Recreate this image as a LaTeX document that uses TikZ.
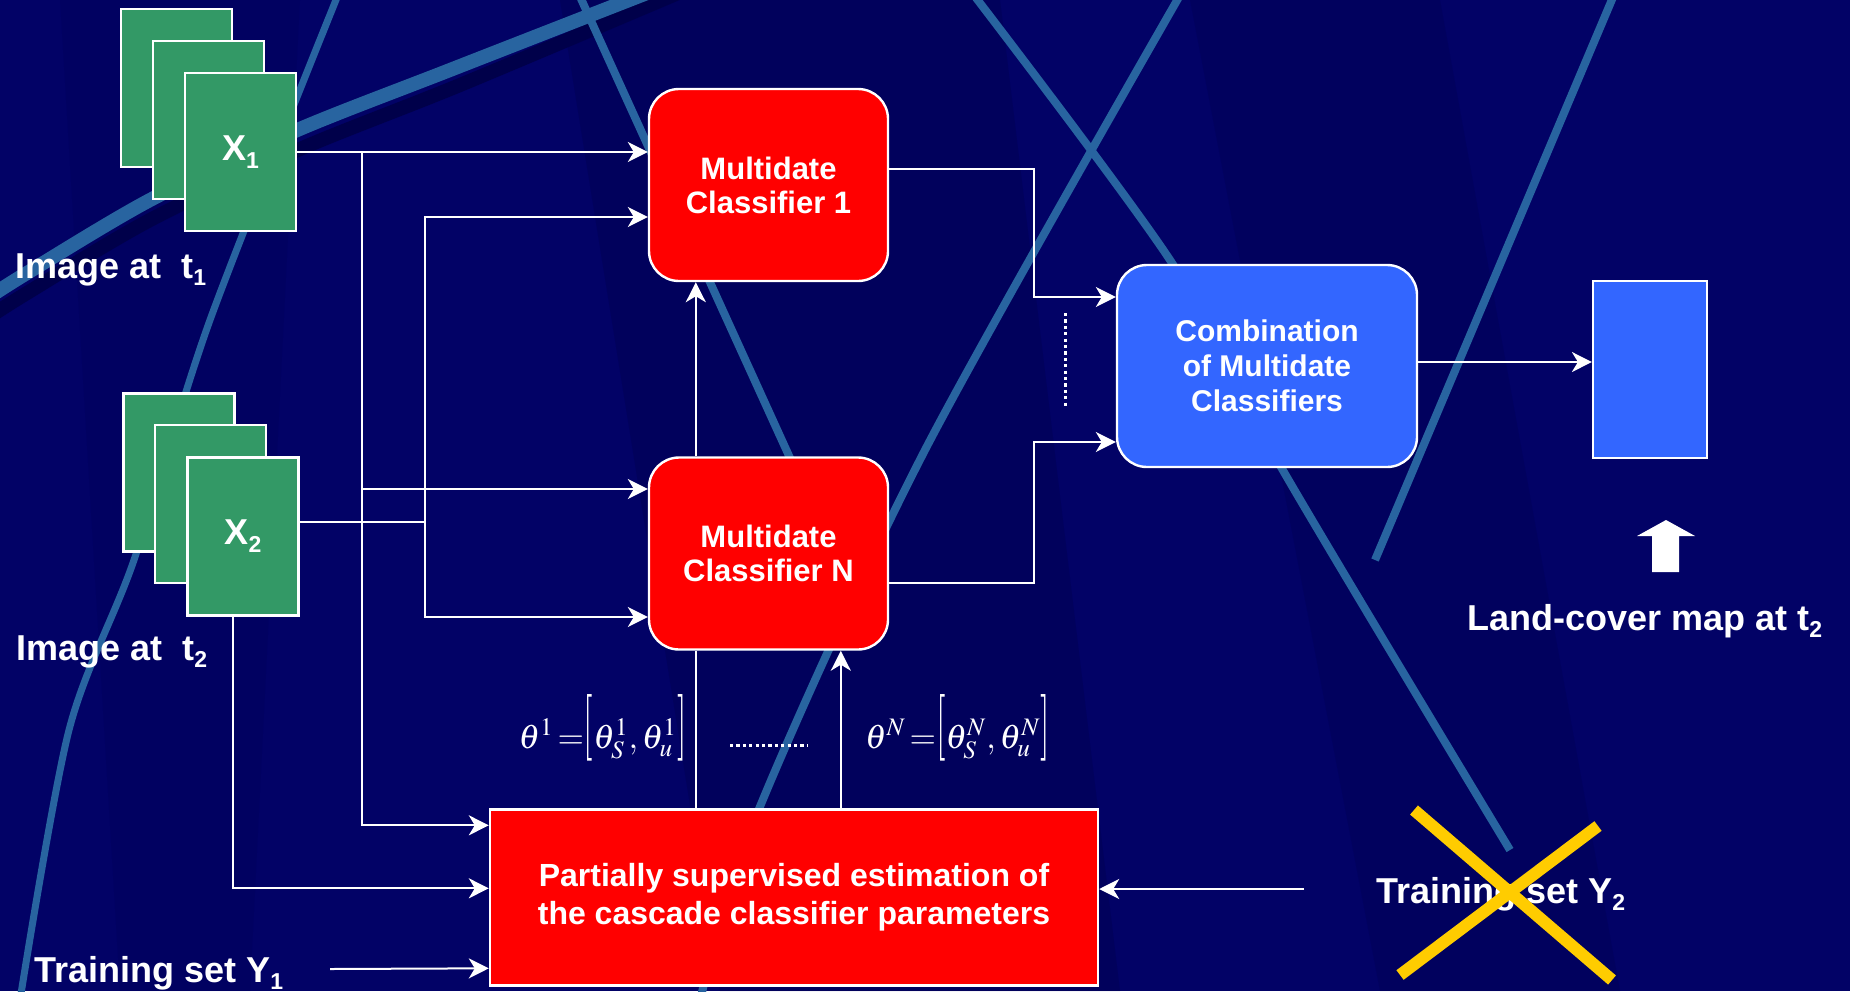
\documentclass[tikz,border=0pt]{standalone}
\usepackage{mathptmx}
\usepackage[no-math]{fontspec}
\setmainfont{Liberation Sans}
\usetikzlibrary{arrows.meta,calc}

\definecolor{navy}{RGB}{2,2,102}
\definecolor{navydark}{RGB}{0,0,74}
\definecolor{streak}{RGB}{40,100,160}
\definecolor{imggreen}{RGB}{51,153,102}
\definecolor{clsred}{RGB}{255,0,0}
\definecolor{cmbblue}{RGB}{51,102,255}
\definecolor{crossyellow}{RGB}{255,204,0}

% lowered, smaller index used in the labels
\newcommand\dn[1]{\raisebox{-0.22em}{\fontsize{11.5pt}{11.5pt}\selectfont #1}}
% tall square bracket reaching well above the symbols
\newcommand\tallbr[1]{\mathopen{\raisebox{2pt}{\scalebox{1}[1.96]{$#1$}}}}

\begin{document}
\begin{tikzpicture}[x=0.5pt,y=-0.5pt,
  wire/.style={draw=white,line width=1pt},
  arr/.style={wire,-{Stealth[length=10pt,width=10pt,inset=3pt]}},
  dots/.style={draw=white,line width=1.5pt,dash pattern=on 1.6pt off 1.6pt},
  streakline/.style={draw=streak,line width=4pt},
  imgbox/.style={draw=white,line width=1.1pt,fill=imggreen,minimum width=55.5pt,
    minimum height=79pt,inner sep=0pt,text=white,font=\bfseries\fontsize{18}{18}\selectfont},
  clsbox/.style={draw=white,line width=1.2pt,fill=clsred,rounded corners=15pt,
    minimum width=119.5pt,minimum height=96pt,inner sep=0pt,align=center,text=white,
    font=\bfseries\fontsize{15.5}{17}\selectfont},
  cmbbox/.style={draw=white,line width=1.2pt,fill=cmbblue,rounded corners=15pt,
    minimum width=150pt,minimum height=101pt,inner sep=0pt,align=center,text=white,
    font=\bfseries\fontsize{15}{17.5}\selectfont},
  estbox/.style={draw=white,line width=1.2pt,fill=clsred,
    minimum width=304pt,minimum height=88pt,inner sep=0pt,align=center,text=white,
    font=\bfseries\fontsize{16}{19}\selectfont},
  outbox/.style={draw=white,line width=1.1pt,fill=cmbblue,minimum width=57pt,
    minimum height=88.5pt,inner sep=0pt},
  lbl/.style={text=white,font=\bfseries\fontsize{18}{20}\selectfont,inner sep=0pt,anchor=base west},
  mathlbl/.style={text=white,font=\fontsize{17}{19}\selectfont,inner sep=0pt,anchor=base}
]
% ---- background ----
\fill[navy] (0,0) rectangle (1850,991);
\useasboundingbox (0,0) rectangle (1850,991);
\begin{scope}
\clip (0,0) rectangle (1850,991);
\fill[navydark,opacity=0.35] (560,0) -- (1000,0) -- (1120,991) -- (720,991) -- cycle;
\fill[navydark,opacity=0.25] (1190,0) -- (1440,0) -- (1620,991) -- (1380,991) -- cycle;
\fill[navydark,opacity=0.15] (60,0) -- (300,0) -- (250,991) -- (120,991) -- cycle;
% wide diagonal band with its shadow
\draw[navydark,line width=7pt] plot[smooth] coordinates
  {(-20,323) (27,293) (150,220) (300,149) (460,85) (690,-12)};
\draw[streak,line width=7pt] plot[smooth] coordinates
  {(-20,303) (27,273) (150,200) (295,131) (450,70) (660,-12)};
% thin streaks
\draw[streakline,line width=3.5pt] plot[smooth] coordinates
  {(340,-10) (210,320) (134,560) (69,730) (20,1000)};
\draw[streakline] (577,-10) -- (800,480);
\draw[streakline] plot[smooth] coordinates {(970,-10) (1172,263) (1281,467) (1510,850)};
\draw[streakline] plot[smooth] coordinates {(1183,-10) (925,450) (759,809) (700,1000)};
\draw[streakline] (1616,-10) -- (1375,560);
\end{scope}

% ---- image stacks ----
\node[imgbox] (x1c) at (176.5,88) {};
\node[imgbox] (x1b) at (208.5,120) {};
\node[imgbox] (x1) at (240.5,152) {X\dn{1}};
\node[imgbox] (x2c) at (179,472.5) {};
\node[imgbox] (x2b) at (210.5,504) {};
\node[imgbox] (x2) at (243,536.5) {X\dn{2}};

\node[lbl] (lt1) at (15,278) {Image at\ \ t\dn{1}};
\node[lbl] (lt2) at (16,660) {Image at\ \ t\dn{2}};
\node[lbl] (ly1) at (34,982) {Training set Y\dn{1}};

% ---- processing blocks ----
\node[clsbox] (c1) at (768.5,185) {Multidate\\Classifier 1};
\node[clsbox] (cN) at (768.5,553.5) {Multidate\\Classifier N};
\node[cmbbox] (cmb) at (1267,366) {Combination\\of Multidate\\Classifiers};
\node[outbox] (out) at (1650,369.5) {};
\node[estbox] (est) at (794,897.5) {Partially supervised estimation of\\the cascade classifier parameters};

\node[mathlbl] (th1) at (602.5,748) {$\theta^1\,{=}\tallbr{[}\theta_S^1,\theta_u^1\tallbr{]}$};
\node[mathlbl] (thN) at (957.5,748) {$\theta^N\,{=}\tallbr{[}\theta_S^N,\theta_u^N\tallbr{]}$};

\node[lbl] (lmap) at (1467,630) {Land-cover map at t\dn{2}};
\node[lbl] (ly2) at (1376,903) {Training set Y\dn{2}};

% ---- junction points ----
\coordinate (j1) at (362,152);
\coordinate (jn) at (362,489);
\coordinate (x2o) at ($(x2.east)+(0,-15)$);
\coordinate (k1) at (425,217);
\coordinate (k2) at (425,617);
\coordinate (x2s) at ($(x2.south)+(-10,0)$);
\coordinate (ein1) at ($(est.north west)+(0,17)$);
\coordinate (ein2) at ($(est.north west)+(0,80)$);
\coordinate (ein3) at ($(est.north west)+(0,160)$);
\coordinate (y1s) at (330,969);
\coordinate (y2s) at (1304,889);
\coordinate (e1) at ($(est.north west)+(207,0)$);
\coordinate (e2) at ($(est.north west)+(352,0)$);
\coordinate (c1o) at ($(c1.east)+(0,-16)$);
\coordinate (cNo) at ($(cN.east)+(0,29)$);
\coordinate (m1) at (1034,297);
\coordinate (m2) at (1034,442);
\coordinate (co) at ($(cmb.east)+(0,-4)$);
\coordinate (dv1) at (1065,313);
\coordinate (dv2) at (1065,408);
\coordinate (dh1) at (730,745);
\coordinate (dh2) at (808,745);

% ---- connectors ----
\draw[arr] (x1.east) -- (x1.east -| c1.west);
\draw[arr] (j1) |- (ein1);
\draw[arr] (jn) -- (jn -| cN.west);
\draw[arr] (x2o) -| (k1) -- (k1 -| c1.west);
\draw[arr] (k1) |- (k2 -| cN.west);
\draw[arr] (x2s) |- (ein2);
\draw[arr] (y1s) -- (ein3);
\draw[arr] (y2s) -- (y2s -| est.east);
\draw[wire] (e1) -- (e1 |- cN.south);
\draw[arr] (e1 |- cN.north) -- (e1 |- c1.south);
\draw[arr] (e2) -- (e2 |- cN.south);
\draw[arr] (c1o) -| (m1) -- (m1 -| cmb.west);
\draw[arr] (cNo) -| (m2) -- (m2 -| cmb.west);
\draw[arr] (co) -- (co -| out.west);
\draw[dots] (dv1) -- (dv2);
\draw[dots] (dh1) -- (dh2);

% block arrow pointing at the map
\fill[white] (1652,572) -- (1652,536) -- (1637,536) -- (1666,520) -- (1695,536)
  -- (1679,536) -- (1679,572) -- cycle;

% crossed-out second training set
\draw[crossyellow,line width=6pt] (1414,810) -- (1612,980);
\draw[crossyellow,line width=6pt] (1598,826) -- (1400,975);
\end{tikzpicture}
\end{document}
